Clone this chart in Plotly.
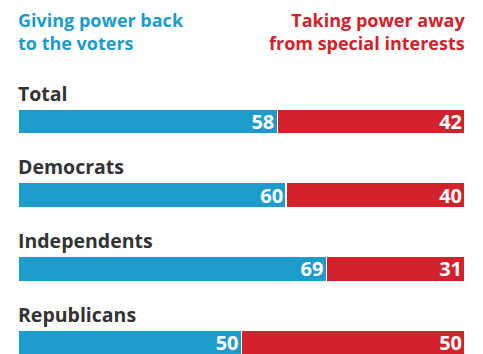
import plotly.graph_objects as go

categories = ["Total", "Democrats", "Independents", "Republicans"]
giving_back = [58, 60, 69, 50]
taking_away = [42, 40, 31, 50]
header_left = "Giving power back<br>to the voters"
header_right = "Taking power away<br>from special interests"

BLUE = "#1e9bcd"
RED = "#d2222b"
DARK = "#333333"
FONT = "Open Sans"

W, H = 483, 354
idx = list(range(len(categories)))

fig = go.Figure()
for vals, color in [(giving_back, BLUE), (taking_away, RED)]:
    fig.add_trace(go.Bar(
        y=idx, x=vals, orientation="h",
        marker=dict(color=color, line=dict(color="white", width=1.5)),
        width=0.345,
        text=[str(v) for v in vals],
        textposition="inside", insidetextanchor="end", textangle=0,
        textfont=dict(family=FONT, size=20, color="white", weight="bold"),
        hoverinfo="skip",
    ))

# category labels above bars
for i, c in enumerate(categories):
    fig.add_annotation(
        x=0, y=i - 0.1725, xref="x", yref="y", text=c, showarrow=False,
        xanchor="left", yanchor="bottom", yshift=0, xshift=-2,
        font=dict(family=FONT, size=19.5, color=DARK, weight="bold"),
    )

fig.add_annotation(
    x=16 / W, y=1 - 6 / H, xref="paper", yref="paper", text=header_left,
    showarrow=False, xanchor="left", yanchor="top", align="left",
    font=dict(family=FONT, size=18, color=BLUE, weight="bold"),
)
fig.add_annotation(
    x=467 / W, y=1 - 6 / H, xref="paper", yref="paper", text=header_right,
    showarrow=False, xanchor="right", yanchor="top", align="right",
    font=dict(family=FONT, size=18, color=RED, weight="bold"),
)

step = 73.7
first = 121.5
fig.update_layout(
    width=W, height=H, barmode="stack",
    margin=dict(l=0, r=0, t=0, b=0),
    paper_bgcolor="white", plot_bgcolor="white",
    showlegend=False,
    uniformtext=dict(minsize=20, mode="show"),
    xaxis=dict(range=[0, 100], domain=[18 / W, 465 / W], visible=False, fixedrange=True),
    yaxis=dict(range=[(H - first) / step, -first / step], visible=False, fixedrange=True),
)

fig.write_html("out.html", config={"displayModeBar": False},
               post_script="document.body.style.margin='0';")
